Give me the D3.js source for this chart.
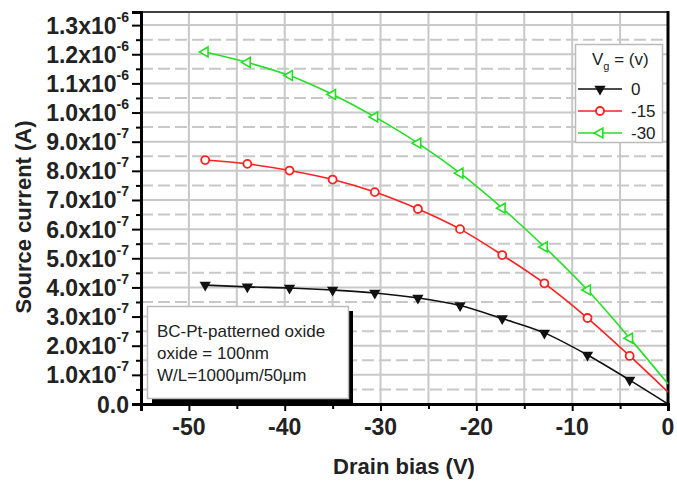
<!DOCTYPE html>
<html>
<head>
<meta charset="utf-8">
<script src="https://cdn.jsdelivr.net/npm/d3@7"></script>
<style>
  body { margin: 0; background: #fff; }
  svg { display: block; font-family: "Liberation Sans", Arial, sans-serif; }
</style>
</head>
<body>
<div id="chart"></div>
<script>
// measured drain bias points (V) and a line end point at 0 V
var drainBias = [-48.3, -43.9, -39.5, -35.0, -30.6, -26.1, -21.7, -17.3, -12.9, -8.4, -4.0];
var endBias = 0;

// source current (A) for each gate voltage
var vg0 = [4.08e-7, 4.02e-7, 3.98e-7, 3.91e-7, 3.81e-7, 3.64e-7, 3.38e-7, 2.93e-7, 2.44e-7, 1.68e-7, 0.82e-7];
var vg15 = [8.37e-7, 8.24e-7, 8.01e-7, 7.70e-7, 7.27e-7, 6.69e-7, 6.00e-7, 5.11e-7, 4.14e-7, 2.95e-7, 1.65e-7];
var vg30 = [12.08e-7, 11.72e-7, 11.27e-7, 10.62e-7, 9.85e-7, 8.95e-7, 7.92e-7, 6.72e-7, 5.39e-7, 3.91e-7, 2.26e-7];
var endCurrent = [0, 0.41e-7, 0.69e-7];

var seriesNames = ["0", "-15", "-30"];
var seriesColors = ["#111111", "#ff2020", "#22e022"];
var seriesMarkers = ["down", "circle", "left"];

var xTicks = [-50, -40, -30, -20, -10, 0];
var yTicks = [0, 1, 2, 3, 4, 5, 6, 7, 8, 9, 10, 11, 12, 13];  // in units of 1e-7

var noteLines = ["BC-Pt-patterned oxide", "oxide = 100nm", "W/L=1000\u03bcm/50\u03bcm"];

var width = 677, height = 482;
var svg = d3.select("#chart").append("svg")
    .attr("width", width).attr("height", height);

var x = d3.scaleLinear().domain([-55, 0]).range([141, 668]);
var y = d3.scaleLinear().domain([0, 1.345e-6]).range([404, 12]);

// grid
var grid = svg.append("g");
d3.range(-50, 0, 5).forEach(function (v) {
    grid.append("line")
        .attr("x1", x(v)).attr("x2", x(v))
        .attr("y1", y.range()[1]).attr("y2", y.range()[0])
        .attr("stroke", "#c8c8c8").attr("stroke-width", 2);
});
d3.range(1, 27).forEach(function (k) {
    var v = k * 0.5e-7;
    grid.append("line")
        .attr("x1", x.range()[0]).attr("x2", x.range()[1])
        .attr("y1", y(v)).attr("y2", y(v))
        .attr("stroke", "#c8c8c8").attr("stroke-width", 2)
        .attr("stroke-dasharray", k % 2 ? "12,5" : null);
});

// plot frame
svg.append("line").attr("x1", 141).attr("x2", 668).attr("y1", 12).attr("y2", 12)
    .attr("stroke", "#444").attr("stroke-width", 2);
svg.append("line").attr("x1", 668).attr("x2", 668).attr("y1", 11).attr("y2", 405)
    .attr("stroke", "#000").attr("stroke-width", 3);

// annotation box with shadow
var note = svg.append("g");
note.append("rect").attr("x", 152).attr("y", 311).attr("width", 201).attr("height", 92).attr("fill", "#000");
note.append("rect").attr("x", 147.5).attr("y", 306.5).attr("width", 201).attr("height", 92)
    .attr("fill", "#fff").attr("stroke", "#bbb").attr("stroke-width", 1.5);
note.selectAll("text").data(noteLines).enter().append("text")
    .attr("x", 157).attr("y", function (d, i) { return 337 + i * 22; })
    .attr("font-size", 17).attr("fill", "#222")
    .text(function (d) { return d; });

// axes
var xAxis = d3.axisBottom(x).tickValues(d3.range(-55, 1, 5)).tickSize(7).tickFormat("");
svg.append("g").attr("transform", "translate(0,404)").call(xAxis)
    .call(function (g) {
        g.select(".domain").attr("stroke-width", 3);
        g.selectAll(".tick line").attr("stroke-width", 2)
            .attr("y2", function (d) { return d % 10 === 0 ? 7 : 5; });
    });
svg.append("g").selectAll("text").data(xTicks).enter().append("text")
    .attr("x", function (d) { return x(d); }).attr("y", 435)
    .attr("text-anchor", "middle").attr("font-size", 23).attr("font-weight", "bold")
    .attr("fill", "#222")
    .text(function (d) { return d; });

var yAxis = d3.axisLeft(y).tickValues(d3.range(0, 27).map(function (k) { return k * 0.5e-7; }))
    .tickSize(9).tickFormat("");
svg.append("g").attr("transform", "translate(141,0)").call(yAxis)
    .call(function (g) {
        g.select(".domain").attr("stroke-width", 3);
        g.selectAll(".tick line").attr("stroke-width", 2)
            .attr("x2", function (d, i) { return i % 2 ? -5 : -9; });
    });
var yLab = svg.append("g").selectAll("text").data(yTicks).enter().append("text")
    .attr("x", 129).attr("y", function (d) { return y(d * 1e-7) + 8.5; })
    .attr("text-anchor", "end").attr("font-size", 23).attr("font-weight", "bold")
    .attr("fill", "#222");
yLab.each(function (d) {
    var t = d3.select(this);
    if (d === 0) { t.text("0.0"); return; }
    var mant = d >= 10 ? (d / 10).toFixed(1) : d.toFixed(1);
    var exp = d >= 10 ? "-6" : "-7";
    t.append("tspan").text(mant + "x10");
    t.append("tspan").attr("dy", -12).attr("font-size", 14).text(exp);
});

// axis titles
svg.append("text").attr("x", 404).attr("y", 474).attr("text-anchor", "middle")
    .attr("font-size", 22).attr("font-weight", "bold").attr("fill", "#222")
    .text("Drain bias (V)");
svg.append("text").attr("transform", "translate(31,217) rotate(-90)").attr("text-anchor", "middle")
    .attr("font-size", 22).attr("font-weight", "bold").attr("fill", "#222")
    .text("Source current (A)");

// series
var series = [vg0, vg15, vg30];
var line = d3.line().x(function (d) { return x(d[0]); }).y(function (d) { return y(d[1]); })
    .curve(d3.curveMonotoneX);

function drawMarker(g, type, color, cx, cy) {
    if (type === "down") {
        g.append("path").attr("d", d3.symbol(d3.symbolTriangle, 55)())
            .attr("transform", "translate(" + cx + "," + cy + ") rotate(180)")
            .attr("fill", color);
    } else if (type === "circle") {
        g.append("circle").attr("cx", cx).attr("cy", cy).attr("r", 4)
            .attr("fill", "#fff").attr("stroke", color).attr("stroke-width", 1.8);
    } else {
        g.append("path").attr("d", d3.symbol(d3.symbolTriangle, 42)())
            .attr("transform", "translate(" + cx + "," + cy + ") rotate(-90)")
            .attr("fill", "#fff").attr("stroke", color).attr("stroke-width", 1.6);
    }
}

series.forEach(function (vals, i) {
    var pts = drainBias.map(function (b, j) { return [b, vals[j]]; });
    pts.push([endBias, endCurrent[i]]);
    var g = svg.append("g");
    g.append("path").attr("d", line(pts)).attr("fill", "none")
        .attr("stroke", seriesColors[i]).attr("stroke-width", 1.6);
    drainBias.forEach(function (b, j) {
        drawMarker(g, seriesMarkers[i], seriesColors[i], x(b), y(vals[j]));
    });
});

// legend
var lg = svg.append("g");
lg.append("rect").attr("x", 575.5).attr("y", 44.5).attr("width", 87).attr("height", 98)
    .attr("fill", "#fff").attr("stroke", "#bbb").attr("stroke-width", 1.5);
var lt = lg.append("text").attr("x", 592).attr("y", 65).attr("font-size", 17).attr("fill", "#222");
lt.append("tspan").text("V");
lt.append("tspan").attr("dy", 5).attr("font-size", 11).text("g");
lt.append("tspan").attr("dy", -5).text(" = (v)");
seriesNames.forEach(function (name, i) {
    var ly = 89 + i * 22;
    lg.append("line").attr("x1", 578).attr("x2", 622).attr("y1", ly).attr("y2", ly)
        .attr("stroke", seriesColors[i]).attr("stroke-width", 1.6);
    drawMarker(lg, seriesMarkers[i], seriesColors[i], 600, ly);
    lg.append("text").attr("x", 631).attr("y", ly + 6).attr("font-size", 17).attr("fill", "#222")
        .text(name);
});
</script>
</body>
</html>
